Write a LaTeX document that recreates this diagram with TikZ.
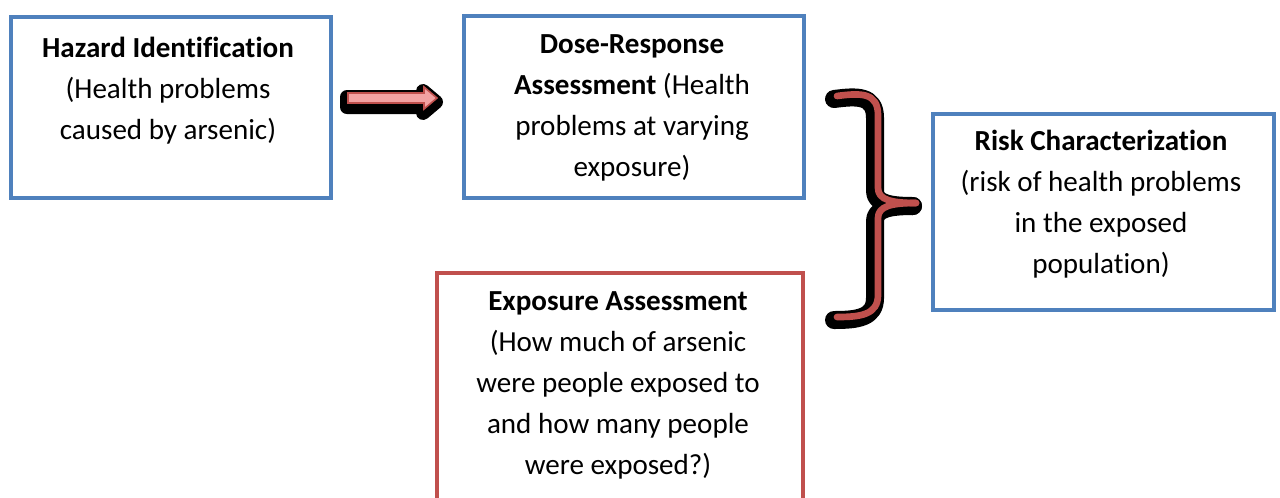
\documentclass[tikz,border=0pt]{standalone}
\usepackage{fontspec}
\setmainfont{Carlito}[Ligatures=NoCommon]
\definecolor{bxblue}{HTML}{4F81BD}
\definecolor{bxred}{HTML}{C0504D}
\definecolor{arpink}{HTML}{F2A2A2}
\begin{document}
\begin{tikzpicture}[x=0.75pt,y=-0.75pt,
  bluebox/.style={draw=bxblue, line width=3pt, inner sep=0pt, anchor=north west},
  redbox/.style={draw=bxred, line width=3pt, inner sep=0pt, anchor=north west},
  txt/.style={inner sep=0pt, anchor=base, font=\fontsize{21.8pt}{26pt}\selectfont},
  shadowline/.style={draw=black, line width=13.5pt, line cap=round, line join=round},
  braceline/.style={draw=bxred, line width=5pt, line cap=round, line join=round}]
\clip (0,0) rectangle (1280,497);
\fill[white] (0,0) rectangle (1280,497);
% boxes
\node[bluebox, minimum width=240pt, minimum height=135.75pt] (hz) at (9,15) {};
\node[bluebox, minimum width=255pt, minimum height=136.5pt] (dr) at (462,14) {};
\node[bluebox, minimum width=255.75pt, minimum height=147pt] (rc) at (931,112) {};
\node[redbox, minimum width=274.5pt, minimum height=180pt] (ea) at (435,271) {};
% texts
\node[txt] (hz1) at (168,57) {\textbf{Hazard Identification}};
\node[txt] (hz2) at (168,98) {(Health problems};
\node[txt] (hz3) at (168,139) {caused by arsenic)};
\node[txt] (dr1) at (632,53) {\textbf{Dose-Response}};
\node[txt] (dr2) at (632,94) {\textbf{Assessment} (Health};
\node[txt] (dr3) at (632,135) {problems at varying};
\node[txt] (dr4) at (632,176) {exposure)};
\node[txt] (rc1) at (1101,150) {\textbf{Risk Characterization}};
\node[txt] (rc2) at (1101,191) {(risk of health problems};
\node[txt] (rc3) at (1101,232) {in the exposed};
\node[txt] (rc4) at (1101,273) {population)};
\node[txt] (ea1) at (618,310) {\textbf{Exposure Assessment}};
\node[txt] (ea2) at (618,351) {(How much of arsenic};
\node[txt] (ea3) at (618,392) {were people exposed to};
\node[txt] (ea4) at (618,433) {and how many people};
\node[txt] (ea5) at (618,474) {were exposed?)};
% block arrow from hz to dr
\begin{scope}[shift={(-1,4)}]
\filldraw[black, line width=10.5pt, line join=round]
  (348,93) -- (424,93) -- (424,87) -- (437,98) -- (424,109) -- (424,103) -- (348,103) -- cycle;
\end{scope}
\filldraw[fill=arpink, draw=bxred, line width=1.2pt, line join=miter]
  (348,93) -- (424,93) -- (424,87) -- (437,98) -- (424,109) -- (424,103) -- (348,103) -- cycle;
% brace
\begin{scope}[shift={(-3,3)}]
\draw[shadowline] (837,96) .. controls (860,93) and (878,92) .. (878,115) -- (878,188) .. controls (878,200) and (892,203) .. (916,203);
\draw[shadowline] (916,203) .. controls (892,203) and (878,206) .. (878,218) -- (878,295) .. controls (878,315) and (860,317) .. (837,317);
\end{scope}
\draw[braceline] (837,96) .. controls (860,93) and (878,92) .. (878,115) -- (878,188) .. controls (878,200) and (892,203) .. (916,203);
\draw[braceline] (916,203) .. controls (892,203) and (878,206) .. (878,218) -- (878,295) .. controls (878,315) and (860,317) .. (837,317);
\end{tikzpicture}
\end{document}
